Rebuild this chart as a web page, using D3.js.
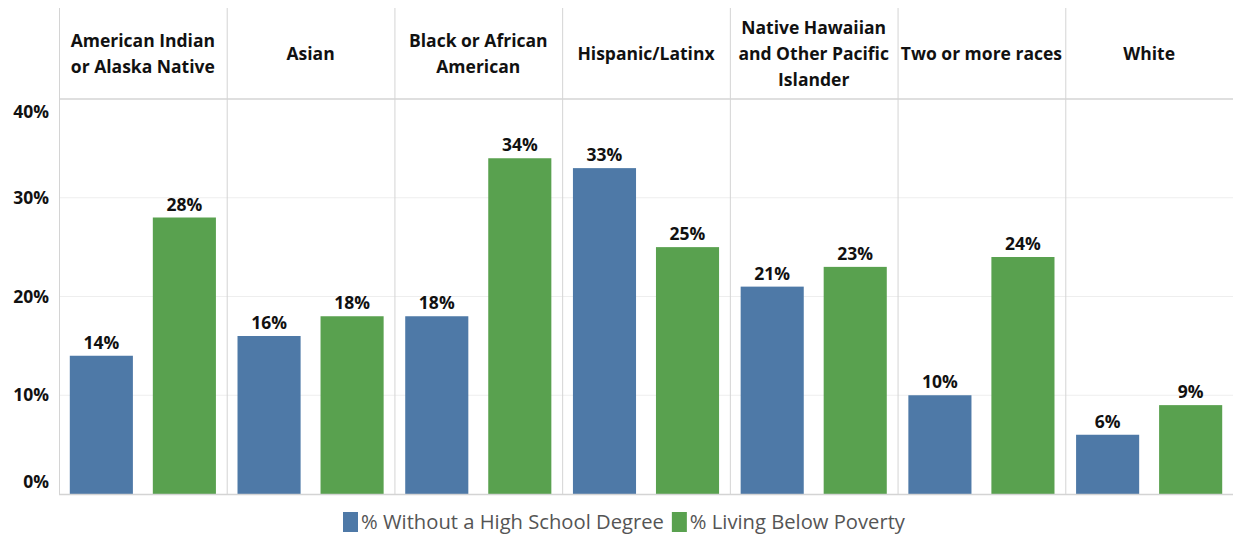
<!DOCTYPE html>
<html>
<head>
<meta charset="utf-8">
<script src="https://cdn.jsdelivr.net/npm/d3@7"></script>
<style>
  body { margin: 0; background: #fff; }
  text { font-family: "Open Sans", Lato, sans-serif; }
</style>
</head>
<body>
<svg id="chart" width="1233" height="535"></svg>
<script>
// data
const groups = [
  ["American Indian", "or Alaska Native"],
  ["Asian"],
  ["Black or African", "American"],
  ["Hispanic/Latinx"],
  ["Native Hawaiian", "and Other Pacific", "Islander"],
  ["Two or more races"],
  ["White"]
]
const seriesNames = ["% Without a High School Degree", "% Living Below Poverty"]
const noDegree = [14, 16, 18, 33, 21, 10, 6]
const poverty = [28, 18, 34, 25, 23, 24, 9]
const yTicks = [0, 10, 20, 30, 40]
const colors = ["#4e79a7", "#59a14f"]

const svg = d3.select("#chart")
const pLeft = 59, pRight = 1233, pTop = 8, headerBottom = 99, pBottom = 494

let x = d3.scaleBand()
  .domain(d3.range(groups.length))
  .range([pLeft, pRight])
  .padding(0)

let xInner = d3.scaleBand()
  .domain([0, 1])
  .range([0, x.bandwidth()])
  .paddingInner(0.24)
  .paddingOuter(0.13)

let y = d3.scaleLinear()
  .domain([0, 40])
  .range([pBottom, headerBottom])

// light gridlines
svg.append("g")
  .selectAll("line")
  .data(yTicks.filter(t => t > 0 && t < 40))
  .join("line")
  .attr("x1", pLeft).attr("x2", pRight)
  .attr("y1", d => y(d)).attr("y2", d => y(d))
  .attr("stroke", "#eeeeee")
  .attr("stroke-width", 1)

// bars
const rows = groups.map((g, i) => [noDegree[i], poverty[i]])
let gg = svg.append("g")
  .selectAll("g")
  .data(rows)
  .join("g")
  .attr("transform", (d, i) => "translate(" + x(i) + ",0)")

gg.selectAll("rect")
  .data(d => d)
  .join("rect")
  .attr("x", (d, j) => xInner(j))
  .attr("width", xInner.bandwidth())
  .attr("y", d => y(d))
  .attr("height", d => y(0) - y(d))
  .attr("fill", (d, j) => colors[j])

gg.selectAll("text.val")
  .data(d => d)
  .join("text")
  .attr("class", "val")
  .attr("x", (d, j) => xInner(j) + xInner.bandwidth() / 2)
  .attr("y", d => y(d) - 7)
  .attr("text-anchor", "middle")
  .attr("font-size", 17.5)
  .attr("font-weight", "bold")
  .attr("fill", "#111")
  .text(d => d + "%")

// panel borders
svg.append("g")
  .selectAll("line")
  .data(d3.range(groups.length))
  .join("line")
  .attr("x1", d => x(d) + 0.5).attr("x2", d => x(d) + 0.5)
  .attr("y1", pTop).attr("y2", pBottom)
  .attr("stroke", "#d4d4d4")

svg.append("line")
  .attr("x1", pLeft).attr("x2", pRight)
  .attr("y1", headerBottom).attr("y2", headerBottom)
  .attr("stroke", "#d4d4d4").attr("stroke-width", 1.5)

svg.append("line")
  .attr("x1", pLeft).attr("x2", pRight)
  .attr("y1", pBottom + 0.5).attr("y2", pBottom + 0.5)
  .attr("stroke", "#d4d4d4").attr("stroke-width", 1.5)

// header labels
svg.append("g")
  .selectAll("text")
  .data(groups)
  .join("text")
  .attr("text-anchor", "middle")
  .attr("font-size", 17.5)
  .attr("font-weight", "bold")
  .attr("fill", "#111")
  .each(function (lines, i) {
    let cx = x(i) + x.bandwidth() / 2
    let y0 = 60 - (lines.length - 1) * 13
    d3.select(this).selectAll("tspan")
      .data(lines)
      .join("tspan")
      .attr("x", cx)
      .attr("y", (l, k) => y0 + k * 26)
      .text(l => l)
  })

// y axis labels (tableau nudges the ends inside)
svg.append("g")
  .selectAll("text")
  .data(yTicks)
  .join("text")
  .attr("x", 49)
  .attr("y", d => d == 40 ? y(d) + 19 : d == 0 ? y(d) - 6 : y(d) + 6)
  .attr("text-anchor", "end")
  .attr("font-size", 17.5)
  .attr("font-weight", "bold")
  .attr("fill", "#111")
  .text(d => d + "%")

// legend
let legend = svg.append("g").attr("transform", "translate(343,512)")
let lx = 0
seriesNames.forEach((name, j) => {
  legend.append("rect")
    .attr("x", lx).attr("y", 0)
    .attr("width", 15).attr("height", 20)
    .attr("fill", colors[j])
  let t = legend.append("text")
    .attr("x", lx + 18).attr("y", 17)
    .attr("font-size", 20.2)
    .attr("fill", "#555")
    .text(name)
  lx += 18 + t.node().getComputedTextLength() + 8
})
</script>
</body>
</html>
